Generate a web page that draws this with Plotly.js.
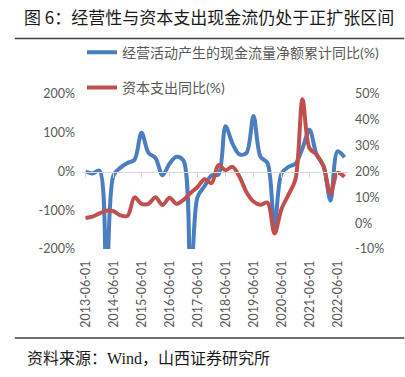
<!DOCTYPE html>
<html>
<head>
<meta charset="utf-8">
<script src="https://cdn.plot.ly/plotly-3.0.1.min.js"></script>
<style>html,body{margin:0;padding:0;background:#fff;}#chart{width:405px;height:377px;}</style>
</head>
<body>
<div id="chart"></div>
<script>
var dates = ["2013-06-01","2013-09-01","2013-12-01","2014-03-01","2014-06-01","2014-09-01","2014-12-01","2015-03-01",
"2015-06-01","2015-09-01","2015-12-01","2016-03-01","2016-06-01","2016-09-01","2016-12-01","2017-03-01",
"2017-06-01","2017-09-01","2017-12-01","2018-03-01","2018-06-01","2018-09-01","2018-12-01","2019-03-01",
"2019-06-01","2019-09-01","2019-12-01","2020-03-01","2020-06-01","2020-09-01","2020-12-01","2021-03-01",
"2021-06-01","2021-09-01","2021-12-01","2022-03-01","2022-06-01","2022-09-01"];
var ocfYoY = [0,-5,2,-320,-10,10,22,30,100,48,35,-10,20,38,28,-320,-66,-38,-10,-8,117,72,44,48,143,38,22,-145,-5,12,20,60,108,44,14,-75,52,37];
var capexYoY = [2,2.5,3.8,4.8,4.6,3,2.8,10,7.5,7.5,10,7,9.8,7.5,9,11.7,14,17,15.5,22.5,20.5,21.8,18,12,8.4,7.1,8,-4,5.5,11,17,48,29,26.6,22,11.5,19.5,18];
var xTicks = ["2013-06-01","2014-06-01","2015-06-01","2016-06-01","2017-06-01","2018-06-01","2019-06-01","2020-06-01","2021-06-01","2022-06-01"];
var leftTickVals = [-200,-100,0,100,200];
var leftTickText = ["-200%","-100%","0%","100%","200%"];
var rightTickVals = [-10,0,10,20,30,40,50];
var rightTickText = ["-10%","0%","10%","20%","30%","40%","50%"];
var nameOcf = "经营活动产生的现金流量净额累计同比(%)";
var nameCapex = "资本支出同比(%)";
var titleText = "图 6：经营性与资本支出现金流仍处于正扩张区间";
var sourceText = "资料来源：Wind，山西证券研究所";

var tickFont = {family: "Lato, 'Noto Sans CJK SC', sans-serif", size: 12.5, color: "#595959"};

var traces = [
  {x: dates, y: ocfYoY, type: "scatter", mode: "lines", name: nameOcf, legendgroup: "a",
   line: {color: "#4a7ebf", width: 4, shape: "spline", smoothing: 0.9}, xaxis: "x", yaxis: "y"},
  {x: dates, y: capexYoY, type: "scatter", mode: "lines", name: nameCapex, legendgroup: "b",
   line: {color: "#c0504d", width: 4, shape: "spline", smoothing: 0.9}, xaxis: "x2", yaxis: "y2"}
];

var layout = {
  width: 405, height: 377,
  margin: {l: 81.5, r: 56.5, t: 94, b: 128},
  paper_bgcolor: "#fff", plot_bgcolor: "#fff",
  title: {text: titleText, x: 24/405, xanchor: "left", y: 1 - 18/377, yanchor: "middle",
          font: {family: "'Noto Sans CJK SC', sans-serif", size: 17, color: "#1a1a1a", weight: 400}},
  showlegend: true,
  legend: {x: 0.0, xanchor: "left", y: 1.37, yanchor: "top", traceorder: "grouped", tracegroupgap: 14,
           font: {family: "Lato, 'Noto Sans CJK SC', sans-serif", size: 14, color: "#595959"},
           bgcolor: "rgba(0,0,0,0)"},
  xaxis: {type: "category", range: [-0.5, dates.length - 0.5], tickmode: "array", tickvals: xTicks, ticktext: xTicks,
          tickangle: -90, showgrid: false, showline: false, zeroline: false, ticks: "", tickfont: tickFont,
          ticklabelstandoff: 8, fixedrange: true},
  xaxis2: {type: "category", overlaying: "x", anchor: "free", position: 0.5, range: [-0.5, dates.length - 0.5],
           tickmode: "array", tickvals: xTicks, showticklabels: false, showgrid: false, showline: true,
           linecolor: "#d9d9d9", linewidth: 1.3, ticks: "outside", ticklen: 5, tickcolor: "#d9d9d9", tickwidth: 1.3,
           zeroline: false, side: "bottom"},
  yaxis: {range: [-200, 200], tickmode: "array", tickvals: leftTickVals, ticktext: leftTickText,
          showgrid: false, zeroline: false, showline: false, ticks: "", tickfont: tickFont, ticklabelstandoff: 6},
  yaxis2: {range: [-10, 50], overlaying: "y", side: "right", anchor: "x2", tickmode: "array",
           tickvals: rightTickVals, ticktext: rightTickText, showgrid: false, zeroline: false, showline: false,
           ticks: "", tickfont: tickFont, ticklabelstandoff: 6},
  shapes: [
    {type: "line", xref: "paper", yref: "paper", x0: -67.5/267, x1: 323.5/267, y0: (249-38.5)/155, y1: (249-38.5)/155,
     line: {color: "#404040", width: 1.3}},
    {type: "line", xref: "paper", yref: "paper", x0: -67.5/267, x1: 323.5/267, y0: (249-338)/155, y1: (249-338)/155,
     line: {color: "#404040", width: 1.3}}
  ],
  annotations: [
    {text: sourceText, xref: "paper", yref: "paper", x: (24-81.5)/267, xanchor: "left", y: (249-358)/155, yanchor: "middle",
     showarrow: false, font: {family: "'Liberation Serif', 'Noto Sans CJK SC', serif", size: 16, color: "#1a1a1a"}}
  ]
};

Plotly.newPlot("chart", traces, layout, {staticPlot: true, displayModeBar: false});
</script>
</body>
</html>
